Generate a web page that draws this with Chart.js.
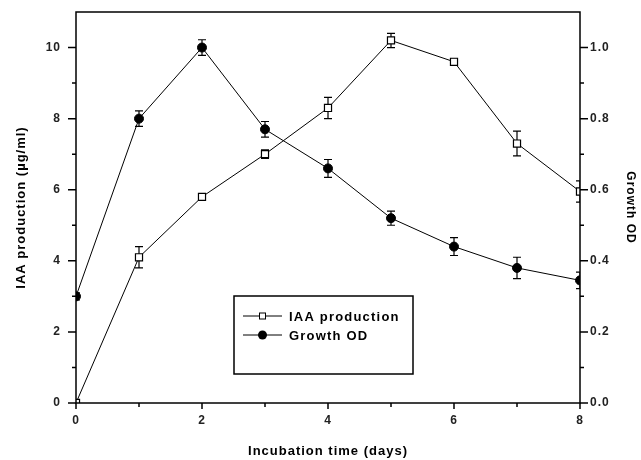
<!DOCTYPE html>
<html>
<head>
<meta charset="utf-8">
<script src="https://cdn.jsdelivr.net/npm/chart.js@4.4.1/dist/chart.umd.min.js"></script>
<style>
  html, body { margin: 0; padding: 0; background: #fff; }
</style>
</head>
<body>
<canvas id="myChart" width="641" height="460"></canvas>
<script>
// Datos
const days = [0, 1, 2, 3, 4, 5, 6, 7, 8];
const iaaValues = [0, 4.1, 5.8, 7.0, 8.3, 10.2, 9.6, 7.3, 5.95];
const iaaErrors = [0, 0.3, 0.08, 0.12, 0.3, 0.2, 0.08, 0.35, 0.3];
const odValues = [0.3, 0.8, 1.0, 0.77, 0.66, 0.52, 0.44, 0.38, 0.345];
const odErrors = [0.01, 0.022, 0.022, 0.022, 0.025, 0.02, 0.025, 0.03, 0.023];

// Marcas de los ejes
const xTicks = [0, 2, 4, 6, 8];
const xMinor = [1, 3, 5, 7];
const iaaTicks = [0, 2, 4, 6, 8, 10];
const iaaMinor = [1, 3, 5, 7, 9];
const odTicks = [0, 0.2, 0.4, 0.6, 0.8, 1.0];
const odMinor = [0.1, 0.3, 0.5, 0.7, 0.9];

const labelFont = { family: 'Liberation Sans, Arial, sans-serif', size: 12, weight: 'bold' };
const titleFont = { family: 'Liberation Sans, Arial, sans-serif', size: 13, weight: 'bold' };

const canvas = document.getElementById('myChart');
const ctx = canvas.getContext('2d');

// Plugin: barras de error, marco, marcas y leyenda
const extras = {
  id: 'extras',
  beforeLayout(chart) { chart.ctx.letterSpacing = '1px'; },
  beforeDraw(chart) { chart.ctx.letterSpacing = '1px'; },
  beforeDatasetsDraw(chart) {
    const c = chart.ctx;
    const area = chart.chartArea;
    const xs = chart.scales.x;
    const sets = [[chart.scales.y, iaaValues, iaaErrors], [chart.scales.y1, odValues, odErrors]];
    c.save();
    c.beginPath();
    c.rect(area.left, area.top, area.right - area.left, area.bottom - area.top);
    c.clip();
    c.strokeStyle = '#000';
    c.lineWidth = 1.2;
    sets.forEach(([ys, vals, errs]) => {
      vals.forEach((v, i) => {
        const e = errs[i];
        if (!e) return;
        const x = xs.getPixelForValue(days[i]);
        const y1 = ys.getPixelForValue(v + e);
        const y2 = ys.getPixelForValue(v - e);
        c.beginPath();
        c.moveTo(x, y1); c.lineTo(x, y2);
        c.moveTo(x - 4, y1); c.lineTo(x + 4, y1);
        c.moveTo(x - 4, y2); c.lineTo(x + 4, y2);
        c.stroke();
      });
    });
    c.restore();
  },
  afterDraw(chart) {
    const c = chart.ctx;
    const a = chart.chartArea;
    const xs = chart.scales.x, ys = chart.scales.y, ys1 = chart.scales.y1;
    c.save();
    c.strokeStyle = '#000';
    c.lineWidth = 1.5;
    c.strokeRect(a.left, a.top, a.right - a.left, a.bottom - a.top);

    c.beginPath();
    iaaTicks.forEach(v => { const y = ys.getPixelForValue(v); c.moveTo(a.left - 8, y); c.lineTo(a.left, y); });
    iaaMinor.forEach(v => { const y = ys.getPixelForValue(v); c.moveTo(a.left - 4, y); c.lineTo(a.left, y); });
    odTicks.forEach(v => { const y = ys1.getPixelForValue(v); c.moveTo(a.right, y); c.lineTo(a.right + 8, y); });
    odMinor.forEach(v => { const y = ys1.getPixelForValue(v); c.moveTo(a.right, y); c.lineTo(a.right + 4, y); });
    xTicks.forEach(v => { const x = xs.getPixelForValue(v); c.moveTo(x, a.bottom); c.lineTo(x, a.bottom + 6); });
    xMinor.forEach(v => { const x = xs.getPixelForValue(v); c.moveTo(x, a.bottom); c.lineTo(x, a.bottom + 4); });
    c.stroke();

    // Leyenda
    const lx = 234, ly = 296, lw = 179, lh = 78;
    c.lineWidth = 1.5;
    c.strokeRect(lx, ly, lw, lh);
    const rows = [[316, chart.data.datasets[0]], [335, chart.data.datasets[1]]];
    c.font = 'bold 13px "Liberation Sans", Arial, sans-serif';
    c.letterSpacing = '1.2px';
    c.textBaseline = 'middle';
    c.fillStyle = '#000';
    rows.forEach(([y, ds]) => {
      c.lineWidth = 1;
      c.beginPath();
      c.moveTo(243, y); c.lineTo(282, y);
      c.stroke();
      if (ds.pointStyle === 'rect') {
        c.fillStyle = '#fff';
        c.fillRect(259.5, y - 3, 6, 6);
        c.strokeRect(259.5, y - 3, 6, 6);
      } else {
        c.fillStyle = '#000';
        c.beginPath();
        c.arc(262.5, y, 4.5, 0, Math.PI * 2);
        c.fill();
      }
      c.fillStyle = '#000';
      c.fillText(ds.label, 289, y + 1);
    });
    c.restore();
  }
};

const noPadY = s => { s.paddingTop = 0; s.paddingBottom = 0; };

const myChart = new Chart(ctx, {
  type: 'line',
  data: {
    datasets: [
      {
        label: 'IAA production',
        data: days.map((d, i) => ({ x: d, y: iaaValues[i] })),
        yAxisID: 'y',
        borderColor: '#000',
        borderWidth: 1,
        backgroundColor: '#fff',
        pointStyle: 'rect',
        pointRadius: 5,
        pointBorderWidth: 1.2,
        pointBorderColor: '#000',
        pointBackgroundColor: '#fff',
        tension: 0
      },
      {
        label: 'Growth OD',
        data: days.map((d, i) => ({ x: d, y: odValues[i] })),
        yAxisID: 'y1',
        borderColor: '#000',
        borderWidth: 1,
        backgroundColor: '#000',
        pointStyle: 'circle',
        pointRadius: 4.5,
        pointBorderWidth: 1,
        pointBorderColor: '#000',
        pointBackgroundColor: '#000',
        tension: 0
      }
    ]
  },
  options: {
    responsive: false,
    animation: false,
    layout: { padding: { top: 12, left: 0, right: 0, bottom: 0 } },
    plugins: {
      legend: { display: false },
      tooltip: { enabled: false }
    },
    scales: {
      x: {
        type: 'linear',
        min: 0,
        max: 8,
        afterBuildTicks: s => { s.ticks = xTicks.map(v => ({ value: v })); },
        afterFit: s => { s.height = 57; s.paddingLeft = 0; s.paddingRight = 0; },
        grid: { display: false, drawTicks: false },
        border: { display: false },
        ticks: { padding: 10, color: '#222', font: labelFont, maxRotation: 0 },
        title: { display: true, text: 'Incubation time (days)', color: '#000', font: titleFont, padding: { top: 0, bottom: 1 } }
      },
      y: {
        position: 'left',
        min: 0,
        max: 11,
        afterBuildTicks: s => { s.ticks = iaaTicks.map(v => ({ value: v })); },
        afterFit: s => { s.width = 76; noPadY(s); },
        grid: { display: false, drawTicks: false },
        border: { display: false },
        ticks: { padding: 15, color: '#222', font: labelFont },
        title: { display: true, text: 'IAA production (µg/ml)', color: '#000', font: titleFont, padding: { top: 14, bottom: 0 } }
      },
      y1: {
        position: 'right',
        min: 0,
        max: 1.1,
        afterBuildTicks: s => { s.ticks = odTicks.map(v => ({ value: v })); },
        afterFit: s => { s.width = 61; noPadY(s); },
        grid: { display: false, drawTicks: false },
        border: { display: false },
        ticks: { padding: 10, color: '#222', font: labelFont, callback: v => v.toFixed(1) },
        title: { display: true, text: 'Growth OD', color: '#000', font: { family: titleFont.family, size: 12, weight: 'bold' }, padding: { top: 3, bottom: 0 } }
      }
    }
  },
  plugins: [extras]
});
</script>
</body>
</html>
